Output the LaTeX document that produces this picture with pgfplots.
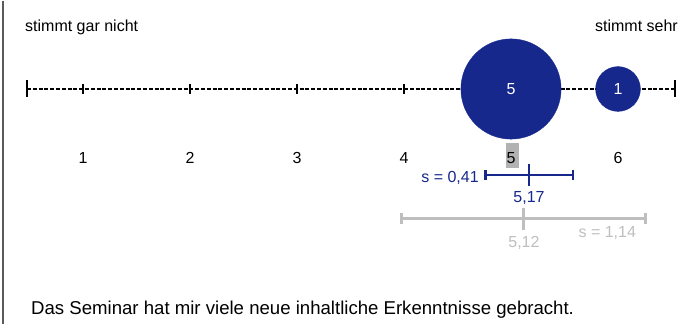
\documentclass[border=0pt]{standalone}
\usepackage{fontspec}
\setmainfont{Liberation Sans}
\usepackage{pgfplots}
\pgfplotsset{compat=1.18}
\definecolor{darkblue}{RGB}{22,40,140}
\definecolor{lightgrey}{RGB}{190,190,190}
\definecolor{framegrey}{RGB}{90,90,90}
\definecolor{boxgrey}{RGB}{178,178,178}

\pgfplotsset{
  bubble/.style={only marks, mark=*, mark size=#1,
    mark options={draw=darkblue, fill=darkblue, solid},
    point meta=explicit symbolic, nodes near coords,
    every node near coord/.append style={text=white, anchor=center,
      font=\fontsize{16}{19}\selectfont, inner sep=0pt}},
}

\begin{document}
\begin{tikzpicture}[x=1pt,y=1pt]
\begin{axis}[
  width=693pt, height=323pt,
  scale only axis,
  hide axis,
  clip=false,
  xmin=0.22430, xmax=6.70093,
  ymin=-323, ymax=0,
]
\path (rel axis cs:0,0) rectangle (rel axis cs:1,1);
% left frame line
\draw[framegrey, line width=2pt] (axis cs:0.2523,-323) -- (axis cs:0.2523,0);

% scale line
\addplot[black, line width=2.4pt, dash pattern=on 4pt off 1.8pt]
  coordinates {(0.4766,-88) (6.533,-88)};
\addplot[only marks, mark=|, mark size=5pt, mark options={line width=2.4pt, solid}]
  coordinates {(1,-88) (2,-88) (3,-88) (4,-88) (5,-88) (6,-88)};
\addplot[only marks, mark=|, mark size=8.5pt, mark options={line width=2.6pt, solid}]
  coordinates {(0.4766,-88) (6.533,-88)};

% answer bubbles, area ~ count (radius 22.4pt * sqrt(count))
\addplot[bubble=50.1pt] coordinates {(5,-88) [5]};
\addplot[bubble=22.4pt] coordinates {(6,-88) [1]};

% labels
\node[anchor=base west, inner sep=0pt, font=\fontsize{16}{19}\selectfont]
  at (axis cs:0.458,-31) {stimmt gar nicht};
\node[anchor=base east, inner sep=0pt, font=\fontsize{16}{19}\selectfont]
  at (axis cs:6.561,-31) {stimmt sehr};
\fill[boxgrey] (axis cs:4.953,-142) rectangle (axis cs:5.075,-167);
\pgfplotsinvokeforeach{1,...,6}{
  \node[anchor=base, inner sep=0pt, font=\fontsize{16}{19}\selectfont]
    at (axis cs:#1,-163) {#1};
}

% mean and standard deviation of this item
\addplot[darkblue, mark=|, mark size=11pt, mark options={line width=2.4pt},
  error bars/.cd, x dir=both, x explicit,
  error bar style={darkblue, line width=2.4pt},
  error mark=|,
  error mark options={darkblue, line width=2.4pt, mark size=5pt}]
  coordinates {(5.17,-174) +- (0.41,0)};
\node[anchor=base east, inner sep=0pt, text=darkblue, font=\fontsize{16}{19}\selectfont]
  at (axis cs:4.70,-182) {s = 0,41};
\node[anchor=base, inner sep=0pt, text=darkblue, font=\fontsize{16}{19}\selectfont]
  at (axis cs:5.168,-201.5) {5,17};

% mean and standard deviation of comparison
\addplot[lightgrey, mark=|, mark size=11pt, mark options={line width=2.8pt},
  error bars/.cd, x dir=both, x explicit,
  error bar style={lightgrey, line width=2.8pt},
  error mark=|,
  error mark options={lightgrey, line width=2.8pt, mark size=5.5pt}]
  coordinates {(5.12,-217.7) +- (1.14,0)};
\node[anchor=base, inner sep=0pt, text=lightgrey, font=\fontsize{16}{19}\selectfont]
  at (axis cs:5.121,-246.5) {5,12};
\node[anchor=base, inner sep=0pt, text=lightgrey, font=\fontsize{16}{19}\selectfont]
  at (axis cs:5.90,-236.5) {s = 1,14};

% item text
\node[anchor=base west, inner sep=0pt, font=\fontsize{18.6}{22}\selectfont]
  at (axis cs:0.514,-313.3) {Das Seminar hat mir viele neue inhaltliche Erkenntnisse gebracht.};
\end{axis}
\end{tikzpicture}
\end{document}
